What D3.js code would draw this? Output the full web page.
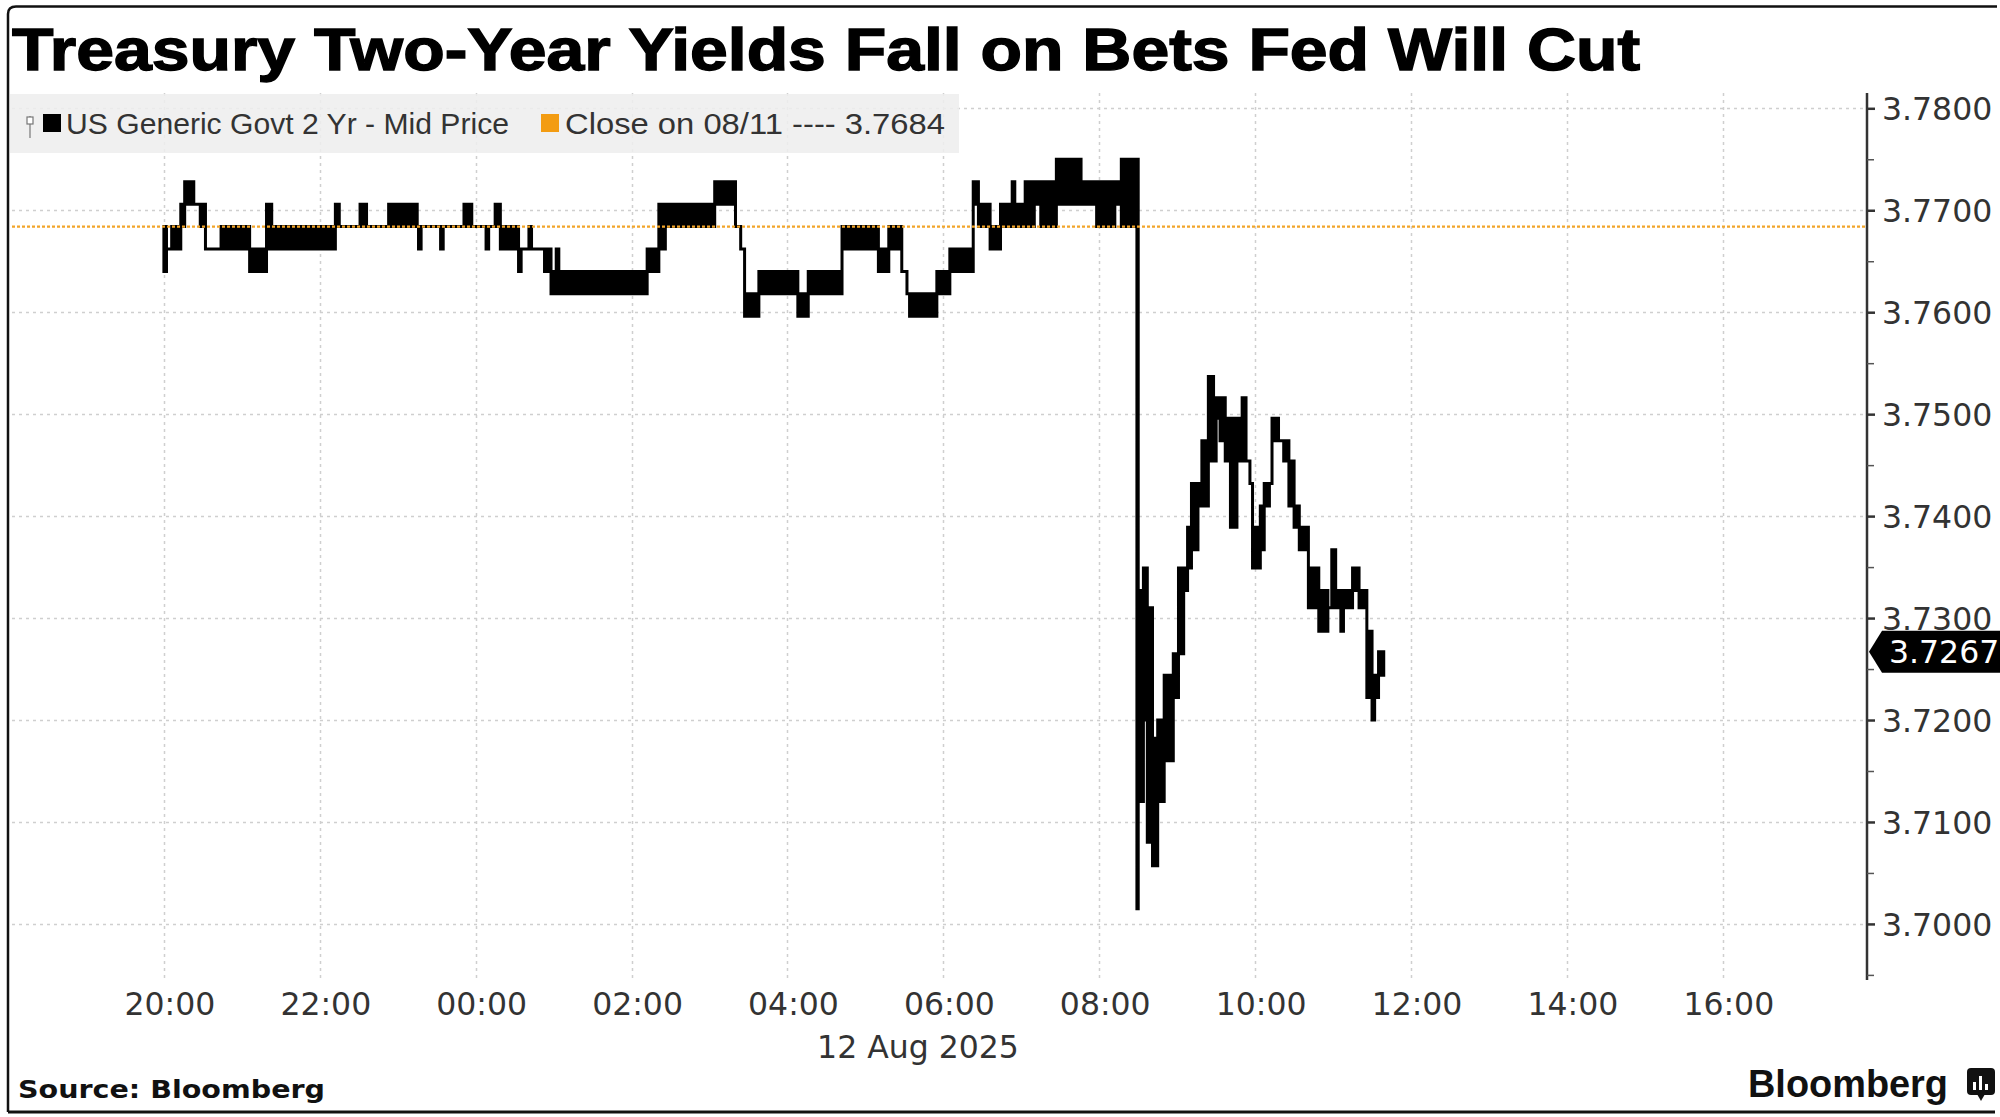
<!DOCTYPE html>
<html><head><meta charset="utf-8">
<script src="https://cdn.jsdelivr.net/npm/d3@7"></script>
<style>body{margin:0;background:#fff;} svg{display:block}</style>
</head><body>
<svg id="c" width="2000" height="1117"></svg>
<script>
// ---------------- data ----------------
const title = "Treasury Two-Year Yields Fall on Bets Fed Will Cut";
const seriesName = "US Generic Govt 2 Yr - Mid Price";
const closeLabel = "Close on 08/11 ---- 3.7684";
const prevClose = 3.7684;
const lastValue = 3.7267;
const yTicks = [3.70, 3.71, 3.72, 3.73, 3.74, 3.75, 3.76, 3.77, 3.78];
const yMinorTicks = [3.695, 3.705, 3.715, 3.725, 3.735, 3.745, 3.755, 3.765, 3.775];
const xTickLabels = ["20:00","22:00","00:00","02:00","04:00","06:00","08:00","10:00","12:00","14:00","16:00"];
const dateLabel = "12 Aug 2025";
const sourceLabel = "Source: Bloomberg";
const brandLabel = "Bloomberg";

// step series: each step holds the low/high range traded from its start time until the next step
const stepTimes = ["20:00","20:02","20:06","20:13","20:16","20:23","20:28","20:32","20:44","21:06",
  "21:19","21:23","22:12","22:15","22:31","22:36","22:53","23:15","23:16","23:18",
  "23:33","23:35","23:51","23:57","00:08","00:10","00:15","00:19","00:33","00:35",
  "00:41","00:43","00:53","00:58","01:02","01:04","02:12","02:21","02:26","03:04",
  "03:20","03:24","03:27","03:38","04:08","04:16","04:42","05:10","05:18","05:28",
  "05:32","05:34","05:55","06:05","06:23","06:27","06:36","06:44","06:53","06:55",
  "07:03","07:10","07:15","07:27","07:46","07:58","08:12","08:17","08:29",
  "08:30","08:34","08:37","08:41","08:45","08:50","08:57","09:01","09:05","09:08",
  "09:11","09:16","09:19","09:24","09:28","09:30","09:33","09:37","09:41","09:46",
  "09:50","09:53","09:56","09:58","10:04","10:07","10:11","10:13","10:18","10:22",
  "10:26","10:30","10:34","10:41","10:49","10:56","10:59","11:02","11:06","11:08",
  "11:15","11:20","11:26","11:30","11:32","11:35"];
const stepLow = [3.7640,3.7662,3.7662,3.7684,3.7706,3.7706,3.7684,3.7662,3.7662,3.7640,
  3.7662,3.7662,3.7684,3.7684,3.7684,3.7684,3.7684,3.7684,3.7662,3.7684,
  3.7662,3.7684,3.7684,3.7684,3.7662,3.7684,3.7684,3.7662,3.7640,3.7662,
  3.7662,3.7662,3.7640,3.7618,3.7618,3.7618,3.7640,3.7662,3.7684,3.7706,
  3.7684,3.7662,3.7596,3.7618,3.7596,3.7618,3.7662,3.7640,3.7662,3.7640,
  3.7618,3.7596,3.7618,3.7640,3.7706,3.7684,3.7662,3.7684,3.7706,3.7684,
  3.7684,3.7706,3.7684,3.7706,3.7706,3.7684,3.7706,3.7684,3.7015,
  3.7120,3.7200,3.7080,3.7057,3.7120,3.7160,3.7222,3.7265,3.7327,3.7349,
  3.7367,3.7410,3.7410,3.7454,3.7454,3.7496,3.7474,3.7454,3.7389,3.7454,
  3.7454,3.7454,3.7432,3.7349,3.7367,3.7410,3.7432,3.7474,3.7474,3.7454,
  3.7410,3.7389,3.7367,3.7310,3.7287,3.7310,3.7310,3.7310,3.7287,3.7310,
  3.7327,3.7310,3.7222,3.7200,3.7222,3.7244];
const stepHigh = [3.7684,3.7662,3.7684,3.7706,3.7728,3.7706,3.7706,3.7662,3.7684,3.7662,
  3.7706,3.7684,3.7706,3.7684,3.7706,3.7684,3.7706,3.7684,3.7684,3.7684,
  3.7684,3.7684,3.7706,3.7684,3.7684,3.7684,3.7706,3.7684,3.7662,3.7662,
  3.7684,3.7662,3.7662,3.7640,3.7662,3.7640,3.7662,3.7706,3.7706,3.7728,
  3.7684,3.7662,3.7618,3.7640,3.7618,3.7640,3.7684,3.7662,3.7684,3.7640,
  3.7618,3.7618,3.7640,3.7662,3.7728,3.7706,3.7684,3.7706,3.7728,3.7706,
  3.7728,3.7728,3.7728,3.7750,3.7728,3.7728,3.7728,3.7750,3.7750,
  3.7327,3.7349,3.7310,3.7182,3.7200,3.7244,3.7265,3.7349,3.7349,3.7389,
  3.7432,3.7432,3.7474,3.7537,3.7516,3.7516,3.7516,3.7496,3.7496,3.7496,
  3.7516,3.7454,3.7432,3.7389,3.7410,3.7432,3.7432,3.7496,3.7474,3.7474,
  3.7454,3.7410,3.7389,3.7349,3.7327,3.7310,3.7367,3.7327,3.7327,3.7327,
  3.7349,3.7327,3.7287,3.7244,3.7244,3.7267];
const endTime = "11:39";

// ---------------- chart ----------------
const parse = d3.timeParse("%Y-%m-%d %H:%M");
function toDate(hhmm) {
  const h = +hhmm.slice(0, 2);
  return parse((h >= 18 ? "2025-08-11 " : "2025-08-12 ") + hhmm);
}
const steps = stepTimes.map((t, i) => ({ t: toDate(t), lo: stepLow[i], hi: stepHigh[i] }));
steps.push({ t: toDate(endTime), lo: stepLow[stepLow.length - 1], hi: stepHigh[stepHigh.length - 1] });

const svg = d3.select("#c");
const fontMain = "'DejaVu Sans', Verdana, sans-serif";

const x = d3.scaleTime()
  .domain([parse("2025-08-11 18:00"), parse("2025-08-12 17:51")])
  .range([8, 1867]);
const y = d3.scaleLinear().domain([3.6945, 3.7815]).range([980, 93]);

const plotLeft = 12, plotRight = 1867, plotTop = 93, plotBottom = 980;

// grid
const grid = svg.append("g").attr("stroke", "#cfcfcf").attr("stroke-width", 1.5).attr("stroke-dasharray", "3,4");
grid.selectAll("line.h").data(yTicks).join("line").attr("class", "h")
  .attr("x1", plotLeft).attr("x2", plotRight)
  .attr("y1", d => Math.round(y(d)) + 0.5).attr("y2", d => Math.round(y(d)) + 0.5);
const xTickDates = xTickLabels.map(toDate);
grid.selectAll("line.v").data(xTickDates).join("line").attr("class", "v")
  .attr("x1", d => Math.round(x(d)) + 0.5).attr("x2", d => Math.round(x(d)) + 0.5)
  .attr("y1", plotTop).attr("y2", plotBottom);

// legend background
svg.append("rect").attr("x", 10).attr("y", 94).attr("width", 949).attr("height", 59)
  .attr("fill", "#eeeeee").attr("opacity", 0.88);

// series
const area = d3.area().curve(d3.curveStepAfter)
  .x(d => x(d.t)).y0(d => y(d.lo)).y1(d => y(d.hi));
svg.append("path").datum(steps).attr("d", area)
  .attr("fill", "#000").attr("stroke", "#000").attr("stroke-width", 3)
  .attr("stroke-linejoin", "miter");

// previous close line
svg.append("line").attr("x1", plotLeft).attr("x2", plotRight)
  .attr("y1", y(prevClose)).attr("y2", y(prevClose))
  .attr("stroke", "#f2a52a").attr("stroke-width", 2.2).attr("stroke-dasharray", "3,2");

// y axis
const yAxis = d3.axisRight(y).tickValues(yTicks).tickFormat(d3.format(".4f"))
  .tickSize(8).tickSizeOuter(0).tickPadding(7);
const ga = svg.append("g").attr("transform", "translate(1867,0)").call(yAxis);
ga.select(".domain").attr("stroke", "#333").attr("stroke-width", 2.5).attr("d", `M0,${plotTop}V${plotBottom}`);
ga.selectAll(".tick line").attr("stroke", "#333").attr("stroke-width", 2.5);
ga.selectAll(".tick text").attr("font-family", fontMain).attr("font-size", 31.5)
  .attr("fill", "#333").attr("dy", "0.36em");
const yMinor = d3.axisRight(y).tickValues(yMinorTicks).tickFormat("").tickSize(7).tickSizeOuter(0);
const gm = svg.append("g").attr("transform", "translate(1867,0)").call(yMinor);
gm.select(".domain").remove();
gm.selectAll(".tick line").attr("stroke", "#555").attr("stroke-width", 1.5);

// x labels
svg.append("g").selectAll("text").data(xTickDates).join("text")
  .attr("x", d => x(d) + 6).attr("y", 1015).attr("text-anchor", "middle")
  .attr("font-family", fontMain).attr("font-size", 31.5).attr("fill", "#333")
  .text((d, i) => xTickLabels[i]);
svg.append("text").attr("x", 918).attr("y", 1058).attr("text-anchor", "middle")
  .attr("font-family", fontMain).attr("font-size", 31.5).attr("fill", "#333").text(dateLabel);

// last value tag
const ly = y(lastValue);
svg.append("path").attr("d", `M1869,${ly}L1882,${ly - 21}H2000V${ly + 21}H1882Z`).attr("fill", "#000");
svg.append("text").attr("x", 1889).attr("y", ly + 11.5)
  .attr("font-family", fontMain).attr("font-size", 31.5).attr("fill", "#fff").text(d3.format(".4f")(lastValue));

// legend
const lg = svg.append("g");
lg.append("line").attr("x1", 30).attr("x2", 30).attr("y1", 116).attr("y2", 138).attr("stroke", "#777").attr("stroke-width", 1.2);
lg.append("rect").attr("x", 27).attr("y", 117).attr("width", 6).attr("height", 7).attr("fill", "#fff").attr("stroke", "#777").attr("stroke-width", 1.2);
lg.append("rect").attr("x", 43).attr("y", 114).attr("width", 18).attr("height", 18).attr("fill", "#000");
lg.append("text").attr("x", 66).attr("y", 134).attr("font-family", "'Liberation Sans', Arial, sans-serif")
  .attr("font-size", 29).attr("fill", "#333").attr("textLength", 443).attr("lengthAdjust", "spacingAndGlyphs").text(seriesName);
lg.append("rect").attr("x", 541).attr("y", 114).attr("width", 18).attr("height", 18).attr("fill", "#f39c12");
lg.append("text").attr("x", 565).attr("y", 134).attr("font-family", "'Liberation Sans', Arial, sans-serif")
  .attr("font-size", 29).attr("fill", "#333").attr("textLength", 380).attr("lengthAdjust", "spacingAndGlyphs").text(closeLabel);

// title
svg.append("text").attr("x", 12).attr("y", 70)
  .attr("font-family", "'Liberation Sans', Arial, sans-serif").attr("font-weight", "bold")
  .attr("font-size", 60).attr("fill", "#000").attr("stroke", "#000").attr("stroke-width", 1.4)
  .attr("textLength", 1628).attr("lengthAdjust", "spacingAndGlyphs").text(title);

// footer
svg.append("text").attr("x", 18).attr("y", 1098)
  .attr("font-family", fontMain).attr("font-weight", "bold").attr("font-size", 25).attr("fill", "#111")
  .attr("textLength", 307).attr("lengthAdjust", "spacingAndGlyphs").text(sourceLabel);
svg.append("text").attr("x", 1748).attr("y", 1097)
  .attr("font-family", "'Liberation Sans', Arial, sans-serif").attr("font-weight", "bold").attr("font-size", 39).attr("fill", "#111")
  .attr("textLength", 200).attr("lengthAdjust", "spacingAndGlyphs").text(brandLabel);
const icon = svg.append("g");
icon.append("rect").attr("x", 1967).attr("y", 1068).attr("width", 28).attr("height", 27).attr("rx", 4).attr("fill", "#111");
icon.append("path").attr("d", "M1977,1094L1981,1101L1985,1094Z").attr("fill", "#111");
[[1973, 1082], [1979, 1076], [1985, 1084]].forEach(([bx, by]) =>
  icon.append("rect").attr("x", bx).attr("y", by).attr("width", 3).attr("height", 1090 - by).attr("fill", "#fff"));

// frame
const frame = svg.append("g").attr("fill", "none").attr("stroke", "#111");
frame.append("path").attr("d", "M8,1112V14Q8,6.5 16,6.5H1997").attr("stroke-width", 2.5);
frame.append("line").attr("x1", 8).attr("x2", 1995).attr("y1", 1112).attr("y2", 1112).attr("stroke-width", 3);
</script>
</body></html>
